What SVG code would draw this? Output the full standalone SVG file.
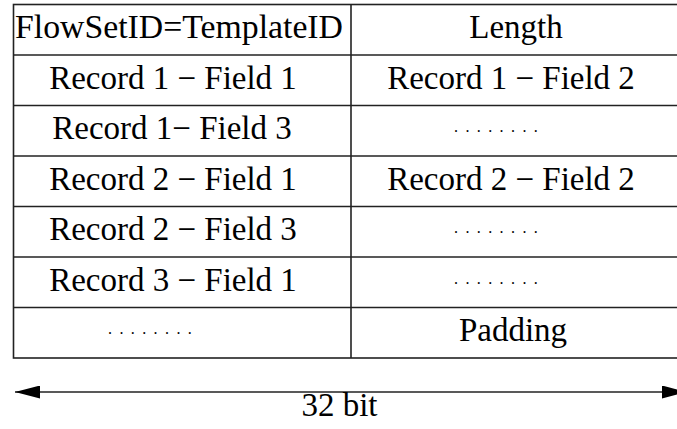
<svg xmlns="http://www.w3.org/2000/svg" width="677" height="429" viewBox="0 0 677 429">
<style>
.cell{fill:#fff;stroke:#222;stroke-width:1.6}
.t{font-family:"Liberation Serif","Times New Roman",serif;font-size:33px;fill:#000;text-anchor:middle}
.d{font-family:"Liberation Serif","Times New Roman",serif;font-size:16px;fill:#000;letter-spacing:7.4px}
.ln{stroke:#222;stroke-width:1.6;fill:none}
</style>
<defs>
<marker id="ah" viewBox="0 0 25 13" refX="25" refY="6.5" markerWidth="25" markerHeight="13" markerUnits="userSpaceOnUse" orient="auto-start-reverse">
<path d="M0,0 L25,6.5 L0,13 Z" fill="#000"/>
</marker>
</defs>
<g id="table">
<rect class="cell" x="13.5" y="4.5" width="668" height="353.5"/>
<line class="ln" x1="351" y1="4.5" x2="351" y2="358"/>
<line class="ln" x1="13.5" y1="55" x2="682" y2="55"/>
<line class="ln" x1="13.5" y1="105.5" x2="682" y2="105.5"/>
<line class="ln" x1="13.5" y1="156" x2="682" y2="156"/>
<line class="ln" x1="13.5" y1="206.5" x2="682" y2="206.5"/>
<line class="ln" x1="13.5" y1="257" x2="682" y2="257"/>
<line class="ln" x1="13.5" y1="307.5" x2="682" y2="307.5"/>
</g>
<g id="r1c1"><text class="t" x="179" y="38" textLength="328" lengthAdjust="spacingAndGlyphs">FlowSetID=TemplateID</text></g>
<g id="r1c2"><text class="t" x="516" y="38">Length</text></g>
<g id="r2c1"><text class="t" x="173" y="88.5">Record 1 − Field 1</text></g>
<g id="r2c2"><text class="t" x="511" y="88.5">Record 1 − Field 2</text></g>
<g id="r3c1"><text class="t" x="172" y="139">Record 1− Field 3</text></g>
<g id="r3c2"><text class="d" x="454" y="132">........</text></g>
<g id="r4c1"><text class="t" x="173" y="189.5">Record 2 − Field 1</text></g>
<g id="r4c2"><text class="t" x="511" y="189.5">Record 2 − Field 2</text></g>
<g id="r5c1"><text class="t" x="173" y="240">Record 2 − Field 3</text></g>
<g id="r5c2"><text class="d" x="454" y="233">........</text></g>
<g id="r6c1"><text class="t" x="173" y="290.5">Record 3 − Field 1</text></g>
<g id="r6c2"><text class="d" x="454" y="283.5">........</text></g>
<g id="r7c1"><text class="d" x="108" y="334">........</text></g>
<g id="r7c2"><text class="t" x="513" y="341">Padding</text></g>
<g id="connectors">
<line class="ln" x1="15" y1="392" x2="687" y2="392" marker-start="url(#ah)" marker-end="url(#ah)"/>
</g>
<g id="width-label"><text class="t" x="339.5" y="416">32 bit</text></g>
</svg>
